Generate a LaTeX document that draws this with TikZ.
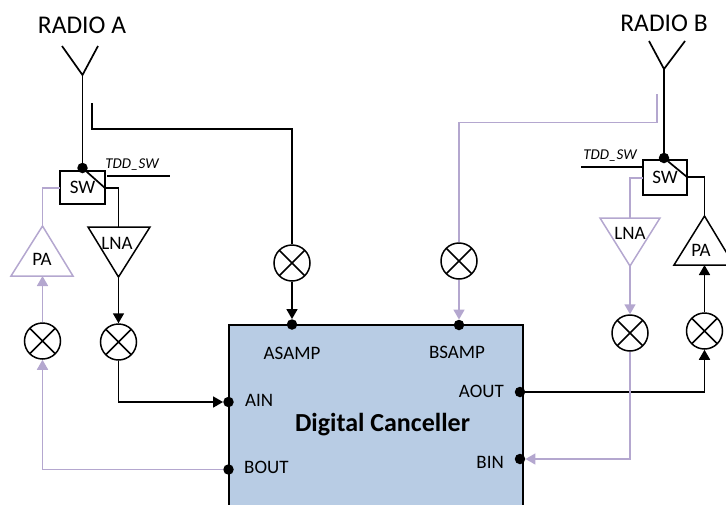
\documentclass[tikz,border=0pt]{standalone}
\usepackage{fontspec}
\setmainfont{Carlito}
\usetikzlibrary{arrows.meta,calc}
\definecolor{lav}{HTML}{B4A7CF}
\definecolor{blockblue}{HTML}{B8CCE4}
\newcommand{\fs}[1]{\fontsize{#1}{#1}\selectfont}
\tikzset{
  wire/.style={line width=1.7pt,black,line join=miter},
  pwire/.style={line width=1.7pt,lav,line join=miter},
  tipb/.style={-{Triangle[length=10pt,width=11pt]}},
  mixer/.style={circle,draw=black,line width=1.5pt,fill=white,minimum size=36pt,inner sep=0pt,
    path picture={\draw[line width=1.5pt,black] (path picture bounding box.south west) -- (path picture bounding box.north east)
      (path picture bounding box.north west) -- (path picture bounding box.south east);}},
  port/.style={circle,fill=black,minimum size=10.5pt,inner sep=0pt},
  swbox/.style={rectangle,draw=black,line width=1.7pt,fill=white,inner sep=0pt,outer sep=0pt,font=\fs{19},anchor=north west},
  amp/.style={line width=1.5pt,line join=miter},
  lab/.style={inner sep=0pt,font=\fs{19}},
  tdd/.style={inner sep=0pt,font=\fs{15}\itshape},
}
\begin{document}
\begin{tikzpicture}[x=1pt,y=-1pt]
\path[use as bounding box,clip] (0,0) rectangle (726,504);
% block
\node[rectangle,draw=black,line width=1.7pt,fill=blockblue,anchor=north west,outer sep=0pt,minimum width=294pt,minimum height=200pt,inner sep=0pt] (dc) at (229,325) {};
\node[inner sep=0pt,font=\fs{26}\bfseries] (dctext) at (382.5,425) {Digital Canceller};
\node[lab] (asamp) at (292,353) {ASAMP};
\node[lab] (bsamp) at (457,352) {BSAMP};
\node[lab,anchor=west] (ain) at (245,400) {AIN};
\node[lab,anchor=west] (bout) at (244,467) {BOUT};
\node[lab,anchor=east] (aout) at (504,391) {AOUT};
\node[lab,anchor=east] (bin) at (504,462) {BIN};
% radio titles
\node[inner sep=0pt,font=\fs{25.5}] (ra) at (82,25) {RADIO A};
\node[inner sep=0pt,font=\fs{25.5}] (rb) at (664,23) {RADIO B};
% antennas
\coordinate (antA) at (82.5,75);
\coordinate (antB) at (664,69);
\draw[wire] (62,46) -- (antA) -- (98,46);
\draw[wire] (649,41) -- (antB) -- (685,41);
% switches
\node[swbox,minimum width=45pt,minimum height=33pt] (swA) at (60,171) {SW};
\node[swbox,minimum width=44pt,minimum height=35pt] (swB) at (643,160) {SW};
\node[tdd] (tddA) at (132,165) {TDD\_SW};
\node[tdd] (tddB) at (610,156) {TDD\_SW};
\coordinate (tddAe) at (170,176);
\coordinate (tddBs) at (581,167);
\draw[wire] (swA.east |- tddAe) ++(2,0) -- (tddAe);
\draw[wire] (tddBs) -- (tddBs -| swB.west);
% junctions
\node[port] (jA) at (82.5,168) {};
\node[port] (jB) at (664,158) {};
\draw[wire] (antA) -- (jA);
\draw[wire] (antB) -- (jB);
\coordinate (swAr) at (105,188);
\coordinate (swBr) at (687,177);
\draw[wire] (jA) -- (swAr);
\draw[wire] (jB) -- (swBr);
% amps
\coordinate (paAt) at (42.5,226); \coordinate (paAb) at (42.5,276);
\coordinate (lnaAt) at (118.5,227); \coordinate (lnaAb) at (118.5,277);
\coordinate (lnaBt) at (630,218); \coordinate (lnaBb) at (630,266);
\coordinate (paBt) at (704.5,216); \coordinate (paBb) at (704.5,265);
\draw[amp,lav] (paAt) -- (11,276) -- (73,276) -- cycle;
\draw[amp,black] (88,227) -- (150,227) -- (lnaAb) -- cycle;
\draw[amp,lav] (600,218) -- (660,218) -- (lnaBb) -- cycle;
\draw[amp,black] (paBt) -- (674,265) -- (734,265) -- cycle;
\node[lab] (paA) at (42,259) {PA};
\node[lab] (lnaA) at (117,243) {LNA};
\node[lab] (lnaB) at (630,233) {LNA};
\node[lab] (paB) at (701,250) {PA};
% mixers
\node[mixer] (m1) at (42.5,341) {};
\node[mixer] (m2) at (118.5,342) {};
\node[mixer] (m3) at (292,263) {};
\node[mixer] (m4) at (459,261) {};
\node[mixer] (m5) at (630,333) {};
\node[mixer] (m6) at (704.5,331) {};
% ports
\node[port] (pA) at (292,324.5) {};
\node[port] (pB) at (459,325) {};
\node[port] (pAin) at (228.5,402) {};
\node[port] (pBout) at (228.5,469.5) {};
\node[port] (pAout) at (520,392) {};
\node[port] (pBin) at (520,459) {};
% black connectors
\draw[wire] (swAr) -- (118.5,188) -- (lnaAt);
\draw[wire,tipb] (lnaAb) -- (m2.north);
\draw[wire,tipb] (m2.south) |- (pAin.west);
\coordinate (sampA) at (92,103);
\draw[wire] (sampA) -- (92,129) -| (m3.north);
\draw[wire,tipb] (m3.south) -- (pA.north);
\draw[wire] (swBr) -- (704.5,177) -- (paBt);
\draw[wire,tipb] (m6.north) -- (paBb);
\draw[wire,tipb] (pAout.east) -| (m6.south);
% lavender connectors
\draw[pwire] (swA.west |- swAr) -- (42.5,188) -- (paAt);
\draw[pwire,tipb] (m1.north) -- (paAb);
\draw[pwire,tipb] (pBout.west) -| (m1.south);
\coordinate (sampB) at (657,94);
\draw[pwire] (sampB) -- (657,122.5) -| (m4.north);
\draw[pwire,tipb] (m4.south) -- (pB.north);
\draw[pwire] (swB.west |- 0,178) -- (630,178) -- (lnaBt);
\draw[pwire,tipb] (lnaBb) -- (m5.north);
\draw[pwire,tipb] (m5.south) |- (pBin.east);
\end{tikzpicture}
\end{document}
